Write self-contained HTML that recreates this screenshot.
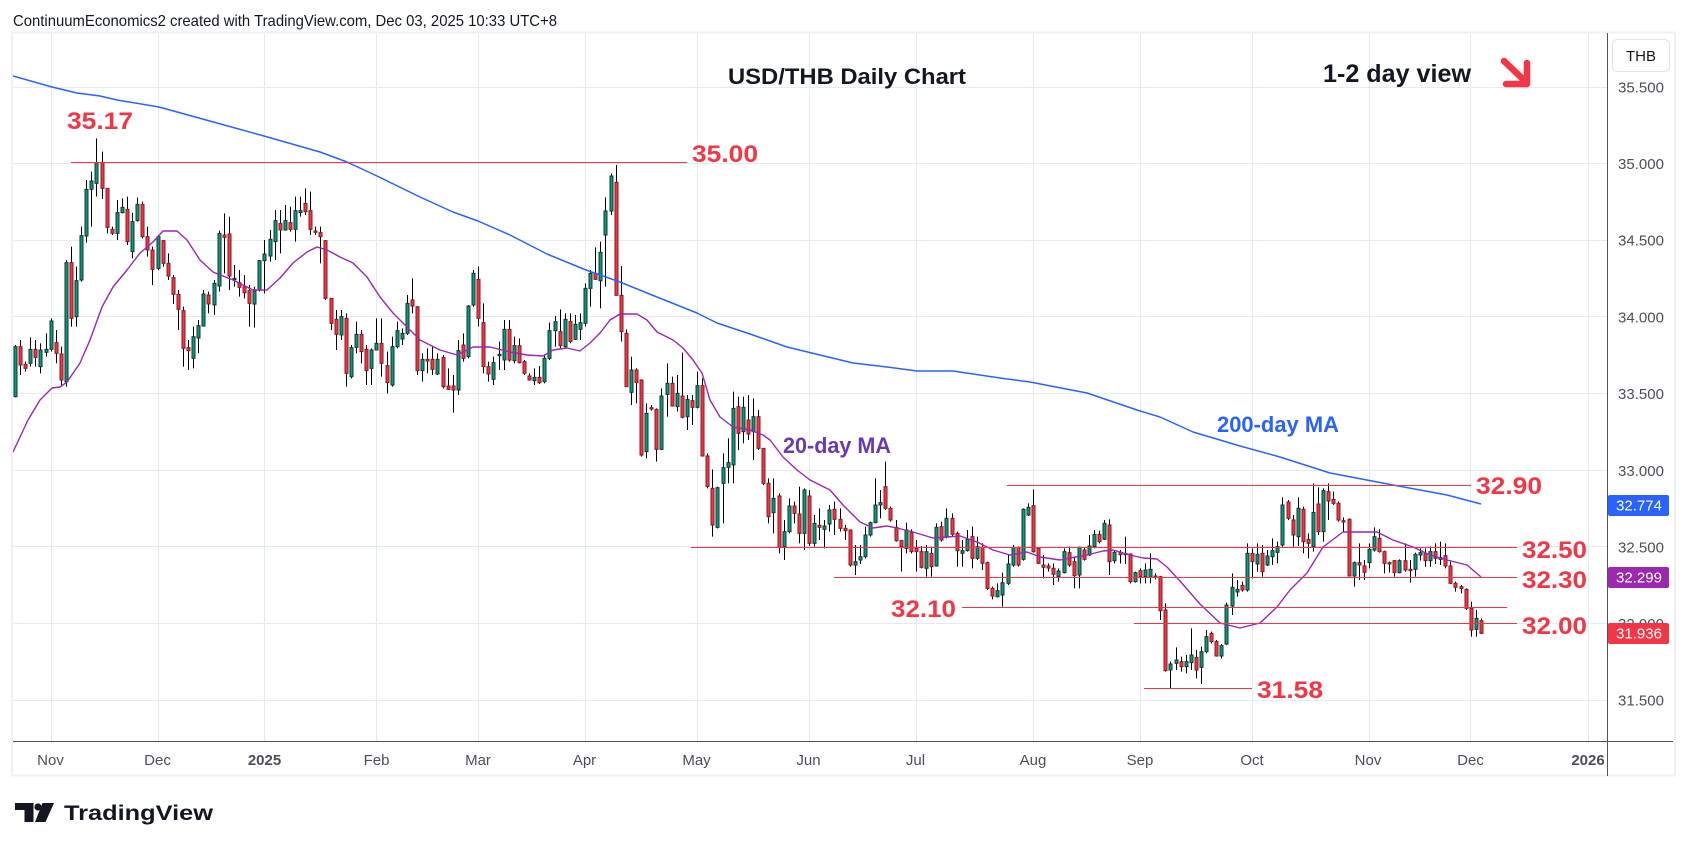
<!DOCTYPE html>
<html><head><meta charset="utf-8"><title>USD/THB Daily Chart</title>
<style>
html,body{margin:0;padding:0;background:#fff;}
svg{display:block;font-family:"Liberation Sans",Arial,sans-serif;}
</style></head><body>
<svg id="s" width="1687" height="851" viewBox="0 0 1687 851" xmlns="http://www.w3.org/2000/svg">
<defs><clipPath id="pane"><rect x="13" y="34" width="1594" height="707"/></clipPath></defs>
<rect width="1687" height="851" fill="#fff"/>
<text x="13" y="26" font-size="16" fill="#131722" textLength="544" lengthAdjust="spacingAndGlyphs">ContinuumEconomics2 created with TradingView.com, Dec 03, 2025 10:33 UTC+8</text>
<rect x="12" y="32.5" width="1663" height="743" fill="#fff" stroke="#eef0f3" stroke-width="2"/>
<g stroke="#e4ebf2" stroke-width="1">
<path d="M13 87.5H1607M13 163.5H1607M13 240.5H1607M13 316.5H1607M13 393.5H1607M13 470.5H1607M13 546.5H1607M13 623.5H1607M13 700.5H1607"/>
<path d="M51.5 34V741M158.5 34V741M264.5 34V741M376.5 34V741M478.5 34V741M585.5 34V741M697.5 34V741M809.5 34V741M916.5 34V741M1033.5 34V741M1140.5 34V741M1252.5 34V741M1369.5 34V741M1470.5 34V741M1588.5 34V741"/>
</g>
<g clip-path="url(#pane)">
<g id="candles"></g>
<polyline fill="none" stroke="#2962ff" stroke-width="1.5" stroke-linejoin="round" points="13,76 52,87 77,93 100,96 117,100 159,107 217,123 264,136 320,152 347,162 377,176 420,197 453,212 478,221 510,235 547,254 586,270 620,282 647,293 697,313 717,323 750,334 787,347 820,355 853,363 887,367 917,371 953,371 1000,378 1030,382 1087,393 1140,411 1160,417 1193,432 1220,440 1240,446 1280,457 1330,473 1393,485 1447,495 1481,504"/>
<polyline fill="none" stroke="#9c27b0" stroke-width="1.4" stroke-linejoin="round" points="13,452 28,420 40,400 52,388 60,387 67,382 80,363 90,340 102,307 113,287 127,270 140,253 153,242 163,231 177,231 187,240 200,260 213,272 233,280 253,290 267,290 280,278 293,263 307,252 317,247 327,250 340,257 353,263 367,277 380,297 393,313 400,320 420,340 440,350 457,355 473,347 490,347 510,352 527,355 543,356 553,350 567,348 580,351 590,343 600,333 610,320 620,314 637,314 647,320 657,332 673,340 683,348 693,360 702,373 710,400 720,417 733,427 750,430 763,435 770,440 783,457 797,470 810,480 830,490 843,505 860,522 873,528 887,526 897,528 913,532 933,538 947,537 960,536 977,542 993,550 1010,555 1027,552 1040,557 1060,560 1070,558 1087,555 1103,551 1113,550 1130,555 1143,558 1157,559 1167,567 1180,581 1200,604 1220,623 1240,628 1260,623 1277,607 1290,590 1307,573 1323,547 1343,532 1363,532 1377,532 1393,540 1413,547 1430,555 1447,560 1467,565 1481,577"/>
<g stroke="#f23645" stroke-width="1">
<path d="M71 162.5H687"/>
<path d="M1007 485.5H1471"/>
<path d="M691 547.5H1517"/>
<path d="M834 577.5H1517"/>
<path d="M962 607.5H1507"/>
<path d="M1134 623.5H1517"/>
<path d="M1144 688.5H1252"/>
</g>
</g>
<g font-size="24.5" font-weight="bold" fill="#f23645">
<text x="67" y="129" textLength="66" lengthAdjust="spacingAndGlyphs">35.17</text>
<text x="692" y="162" textLength="66" lengthAdjust="spacingAndGlyphs">35.00</text>
<text x="1476" y="494" textLength="66" lengthAdjust="spacingAndGlyphs">32.90</text>
<text x="1522" y="558" textLength="65" lengthAdjust="spacingAndGlyphs">32.50</text>
<text x="1522" y="588" textLength="65" lengthAdjust="spacingAndGlyphs">32.30</text>
<text x="1522" y="634" textLength="65" lengthAdjust="spacingAndGlyphs">32.00</text>
<text x="891" y="617" textLength="65" lengthAdjust="spacingAndGlyphs">32.10</text>
<text x="1257" y="698" textLength="66" lengthAdjust="spacingAndGlyphs">31.58</text>
</g>
<text x="783" y="453" font-size="22" font-weight="bold" fill="#673ab7" textLength="108" lengthAdjust="spacingAndGlyphs">20-day MA</text>
<text x="1217" y="432" font-size="22" font-weight="bold" fill="#2962ff" textLength="122" lengthAdjust="spacingAndGlyphs">200-day MA</text>
<text x="728" y="84" font-size="22" font-weight="bold" fill="#131722" textLength="238" lengthAdjust="spacingAndGlyphs">USD/THB Daily Chart</text>
<text x="1323" y="82" font-size="25" font-weight="bold" fill="#131722" textLength="148" lengthAdjust="spacingAndGlyphs">1-2 day view</text>
<g stroke="#f23645" stroke-width="6.5" stroke-linecap="round" stroke-linejoin="round" fill="none">
<path d="M1504 61L1527 83M1527 63V84H1506"/>
</g>
<path d="M13 741.5H1673" stroke="#50535e" stroke-width="1"/>
<path d="M1607.5 33V776" stroke="#50535e" stroke-width="1"/>
<rect x="1612.5" y="39.5" width="57" height="32" rx="5" fill="#fff" stroke="#e0e3eb"/>
<text x="1641" y="61" font-size="15" fill="#131722" text-anchor="middle">THB</text>
<g font-size="15" fill="#4c4f5a" text-anchor="middle">
<text x="1641" y="92.5">35.500</text>
<text x="1641" y="169">35.000</text>
<text x="1641" y="245.5">34.500</text>
<text x="1641" y="322.5">34.000</text>
<text x="1641" y="399">33.500</text>
<text x="1641" y="476">33.000</text>
<text x="1641" y="552.5">32.500</text>
<text x="1641" y="629">32.000</text>
<text x="1641" y="705.5">31.500</text>
</g>
<rect x="1608" y="495" width="61" height="21" rx="2" fill="#2962ff"/>
<text x="1639" y="510.5" font-size="15" fill="#fff" text-anchor="middle">32.774</text>
<rect x="1608" y="567" width="61" height="21" rx="2" fill="#9c27b0"/>
<text x="1639" y="582.5" font-size="15" fill="#fff" text-anchor="middle">32.299</text>
<rect x="1608" y="623" width="61" height="21" rx="2" fill="#f23645"/>
<text x="1639" y="638.5" font-size="15" fill="#fff" text-anchor="middle">31.936</text>
<g font-size="15" fill="#4c4f5a" text-anchor="middle">
<text x="50.5" y="765">Nov</text>
<text x="157.5" y="765">Dec</text>
<text x="264.5" y="765" font-weight="bold">2025</text>
<text x="376.5" y="765">Feb</text>
<text x="478" y="765">Mar</text>
<text x="584.5" y="765">Apr</text>
<text x="696.5" y="765">May</text>
<text x="808.5" y="765">Jun</text>
<text x="915.5" y="765">Jul</text>
<text x="1033" y="765">Aug</text>
<text x="1140" y="765">Sep</text>
<text x="1252" y="765">Oct</text>
<text x="1368" y="765">Nov</text>
<text x="1470.5" y="765">Dec</text>
<text x="1588" y="765" font-weight="bold">2026</text>
</g>
<g fill="#131722">
<path d="M15 803H33.5V822H24.5V810H15Z"/>
<circle cx="38" cy="807" r="3.6"/>
<path d="M42.5 803H54L45.5 822H35Z"/>
</g>
<text x="64" y="820" font-size="21" font-weight="bold" fill="#131722" textLength="149" lengthAdjust="spacingAndGlyphs">TradingView</text>
</svg>
<script>
(function(){
var NS="http://www.w3.org/2000/svg";
var g=document.getElementById("candles");
var A=[1,740,890,735,892,0,740,795,720,825,0,793,805,785,815,1,748,790,712,800,0,748,772,720,800,1,750,800,730,820,1,748,757,700,770,1,663,748,655,755,0,728,760,690,790,0,762,840,740,855,1,488,845,480,860,0,488,655,440,680,1,542,650,500,680,1,407,540,380,545,1,268,408,240,428,1,243,268,215,380,1,188,250,115,290,0,188,265,155,297,0,265,382,265,400,0,388,400,380,405,1,338,400,300,420,1,322,338,295,340,0,328,425,290,435,1,365,455,338,475,1,313,362,293,365,0,313,410,305,415,0,410,450,380,470,0,450,508,440,555,1,410,505,405,510,0,422,490,420,500,0,490,528,460,540,0,533,583,525,612,0,583,628,570,690,0,632,745,620,800,0,743,752,720,810,1,710,775,680,805,1,677,714,660,760,1,582,678,570,680,0,585,612,575,640,1,550,615,540,645,1,400,558,392,575,0,405,412,340,520,0,402,528,350,570,1,535,539,495,560,0,548,562,510,590,0,560,578,525,595,0,572,610,555,680,1,573,612,560,683,1,482,570,480,575,1,462,482,420,580,1,418,468,390,485,1,362,425,330,480,0,370,390,330,460,1,362,390,315,392,0,368,388,320,395,1,332,388,290,425,1,332,338,290,350,0,310,335,265,345,0,332,388,275,405,0,393,397,380,405,0,398,410,380,490,0,422,595,420,600,0,595,670,595,690,0,658,703,630,750,1,650,705,630,720,0,655,820,640,860,1,743,830,735,835,1,703,742,665,760,0,703,755,690,790,0,748,812,735,855,1,750,805,745,855,1,730,750,655,750,0,730,790,655,830,0,797,848,755,880,1,740,855,710,860,1,692,740,665,745,1,700,717,685,735,1,610,700,585,705,0,600,618,535,640,0,620,812,620,825];
var B=[1,658,692,640,725,0,658,663,625,700,0,658,688,620,705,1,658,702,640,705,0,652,740,645,745,0,738,748,685,750,0,738,750,705,818,1,632,750,600,765,0,615,655,580,665,1,498,650,495,655,1,400,495,390,500,0,418,535,380,560,0,548,680,490,700,0,680,702,665,725,1,668,718,650,735,1,643,647,605,690,1,568,660,540,690,0,568,660,540,665,1,617,662,590,670,0,617,668,595,670,0,665,700,660,705,0,708,720,700,722,1,712,722,685,735,0,712,728,678,732,1,655,725,645,730,1,572,655,548,660,1,545,572,528,620,0,575,617,508,625,1,538,620,520,625,0,545,605,520,610,1,553,598,525,600,1,548,568,520,600,1,445,550,430,560,1,400,445,390,500,0,400,418,322,420,1,337,422,305,505,1,213,285,172,440,1,108,213,100,225,0,127,466,75,466,0,466,575,378,605,0,580,740,568,740,1,690,757,650,795,0,690,728,685,790,0,720,945,718,950,1,820,935,790,955,0,803,807,795,812,0,808,928,805,965,1,768,928,745,930,1,730,763,670,830,0,730,798,710,800,1,760,800,705,815,0,768,832,638,835,1,778,830,765,870,0,782,802,765,855,1,737,802,695,805,0,737,948,715,950,0,948,1040,940,1045,0,1045,1155,988,1190,1,1043,1162,1040,1165,1,983,1030,940,1150,1,968,982,895,1030,1,805,975,755,1030,0,800,880,770,930,1,802,875,770,910,0,840,882,765,900,1,830,875,775,960,0,830,925,810,930,0,925,1030,925,1035,0,1030,1130,1015,1150,1,1075,1118,1015,1180,0,1068,1222,1060,1240,1,1175,1220,1140,1260,1,1098,1175,1075,1180,0,1098,1120,1085,1150,0,1122,1180,1040,1210];
var C=[1,150,280,145,330,0,168,310,150,318,1,250,310,225,320,0,256,262,205,300,1,258,268,240,325,1,210,252,195,275,0,208,238,185,285,0,238,265,205,275,0,265,272,255,300,0,270,375,268,380,1,365,375,315,405,1,350,360,315,372,1,285,350,260,355,1,248,285,245,290,1,195,248,115,250,1,188,195,150,235,0,140,205,65,210,0,205,240,200,245,0,262,302,240,305,0,302,320,300,395,1,270,325,248,340,0,278,335,268,340,0,325,335,300,395,0,335,382,318,385,1,335,385,315,410,0,340,380,320,410,1,262,378,250,380,0,260,300,245,305,1,235,290,205,295,0,235,283,220,290,0,280,332,275,380,1,332,340,300,380,1,298,332,270,335,0,290,355,260,385,1,320,355,290,360,0,322,370,310,390,0,368,445,365,450,0,445,468,440,478,1,452,470,430,472,1,428,465,398,500,1,372,430,345,435,1,323,375,315,380,0,322,375,320,380,1,208,358,205,362,1,202,225,190,228,0,197,335,148,338,0,325,370,322,372,0,375,382,345,415,0,378,384,370,395,0,385,403,370,435,1,393,410,385,425,1,335,398,325,400,0,338,375,320,380,0,365,407,350,445,1,322,405,320,445,0,330,358,322,362,1,318,345,285,348,1,283,320,270,325,0,283,305,272,310,1,250,298,240,300,0,255,365,238,405,1,337,362,330,370,0,338,344,330,370,0,340,344,290,372,0,342,425,340,430,1,398,425,395,428,0,392,410,385,430,1,390,410,370,430,1,388,412,340,430,0,408,412,400,418,0,410,512,408,540,0,510,692,490,695,1,672,690,665,745,1,660,670,622,690,0,665,680,650,695,1,665,680,645,700,1,645,668,565,690,0,652,690,630,715,
1,635,682,620,732,1,590,635,570,640,0,580,605,575,610,0,605,648,600,650,1,617,648,612,655,1,495,612,488,615,1,442,498,400,525,1,448,456,420,470,0,436,450,425,455,1,340,450,310,455,0,340,365,325,415,1,343,372,310,395,0,340,395,315,410,1,348,375,330,378,1,332,350,295,375,1,320,337,305,370,1,195,315,172,320,0,186,235,180,240,0,240,285,225,320,1,205,290,172,318,0,208,305,200,340,0,298,310,280,355,1,217,320,130,335,0,192,275,142,285,1,152,275,145,305,0,155,183,130,240,0,178,190,155,195,0,190,240,185,245,0,242,246,232,275,0,238,408,235,410,1,368,408,365,440,0,368,375,310,420,0,378,397,360,420,1,328,368,310,385,1,290,330,262,335,0,295,335,268,338,0,335,370,332,400,0,368,372,365,398,0,362,398,360,410,1,362,398,358,400,0,362,390,310,395,0,388,392,360,428,1,343,388,338,410,1,338,345,325,362,0,340,362,325,380,1,335,362,320,380,0,335,355,310,372,1,352,358,305,375,0,347,378,310,385,0,378,430,365,432,0,430,442,425,455,0,440,446,435,460,0,448,505,445,510,0,505,570,485,590,1,535,568,510,590,0,542,580,535,582];
function draw(arr,k0,off){
 var n=arr.length/5;
 for(var i=0;i<n;i++){
  var c=arr[i*5],bt=off+arr[i*5+1]/3,bb=off+arr[i*5+2]/3,wt=off+arr[i*5+3]/3,wb=off+arr[i*5+4]/3;
  var k=k0+i;
  var cx=Math.round(15+5.09*k)+0.5;
  var l=document.createElementNS(NS,"line");
  l.setAttribute("x1",cx);l.setAttribute("x2",cx);
  l.setAttribute("y1",Math.min(wt,bt));l.setAttribute("y2",Math.max(wb,bb));
  l.setAttribute("stroke","#000");l.setAttribute("stroke-width","1");
  g.appendChild(l);
  var r=document.createElementNS(NS,"rect");
  r.setAttribute("x",cx-1.5);r.setAttribute("width",3);
  r.setAttribute("y",bt);r.setAttribute("height",Math.max(1,bb-bt));
  r.setAttribute("fill",c?"#089981":"#f23645");
  r.setAttribute("stroke",c?"#12382e":"#8a1822");
  r.setAttribute("stroke-width","1");
  g.appendChild(r);
 }
}
draw(A,0,100);
draw(B,80,140);
draw(C,155,440);
})();
</script>
</body></html>
